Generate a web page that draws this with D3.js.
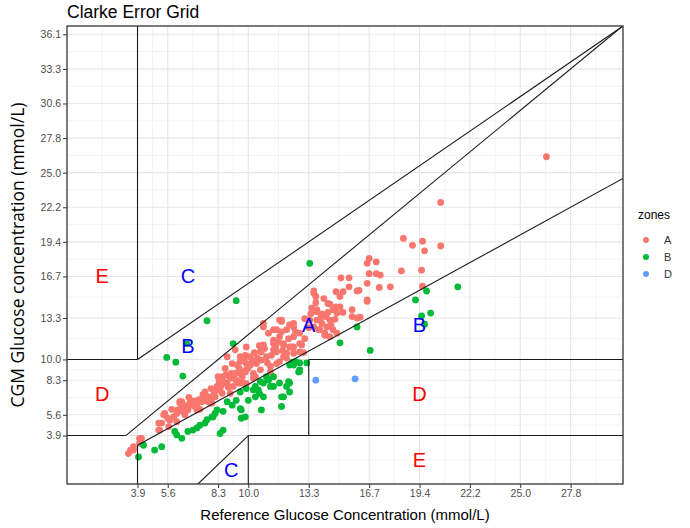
<!DOCTYPE html>
<html><head><meta charset="utf-8">
<script src="https://cdn.jsdelivr.net/npm/d3@7"></script>
<style>body{margin:0;background:#fff}svg{display:block}</style>
</head><body>
<svg id="chart" width="690" height="528"></svg>
<script>
// ---- data (glucose values in mg/dL, labelled in mmol/L) ----
const xTickValues = [70,100,150,180,240,300,350,400,450,500];
const xTickLabels = ["3.9","5.6","8.3","10.0","13.3","16.7","19.4","22.2","25.0","27.8"];
const yTickValues = [70,100,150,180,240,300,350,400,450,500,550,600,650];
const yTickLabels = ["3.9","5.6","8.3","10.0","13.3","16.7","19.4","22.2","25.0","27.8","30.6","33.3","36.1"];
const xMinorValues = [35,85,125,165,210,270,325,375,425,475,525];
const yMinorValues = [35,85,125,165,210,270,325,375,425,475,525,575,625];

const zoneNames = ["A","B","D"];
const zoneColors = ["#F8766D","#00BA38","#619CFF"];

// zone A points: [reference, CGM]
const pointsA = [[476,473],[371,407],[334,355],[343,345],[353,351],[355,337],[371,344],[300,326],[307,321],[298,319],[300,304],[307,304],[311,302],[332,308],[352,309],[272,298],[280,298],[280,285],[290,280],[310,284],[321,285],[298,264],[245,279],[247,271],[267,278],[274,278],[261,260],[267,256],[274,248],[283,252],[283,242],[291,241],[353,286],[243,254],[248,249],[253,246],[257,242],[261,237],[248,237],[253,232],[258,227],[250,223],[256,218],[261,213],[245,227],[241,237],[264,223],[211,237],[225,232],[218,223],[225,213],[215,201],[225,198],[233,201],[218,189],[231,191],[235,190],[259,261],[254,244],[268,218],[256,215],[213,235],[221,230],[205,223],[213,220],[200,218],[215,203],[223,198],[205,203],[192,191],[208,191],[193,179],[211,177],[218,182],[182,172],[192,165],[202,162],[175,162],[185,153],[172,146],[178,145],[195,227],[288,279],[271,256],[268,247],[288,240],[298,290],[298,266],[63,49],[66,54],[72,66],[92,78],[91,88],[96,100],[102,92],[109,102],[112,117],[119,107],[122,117],[129,114],[132,108],[135,126],[142,117],[147,126],[149,141],[152,136],[157,146],[155,155],[162,153],[165,141],[168,150],[172,160],[175,146],[178,165],[159,184],[164,174],[167,194],[172,184],[178,174],[182,184],[188,174],[185,160],[198,184],[205,194],[202,170],[208,174],[215,184],[195,201],[205,208],[211,213],[208,223],[195,232],[213,237],[225,227],[231,203],[221,198],[231,218],[225,189],[245,276],[248,252],[264,252],[251,223],[271,271],[135,129],[144,126],[112,119],[114,112],[124,114],[129,107],[97,102],[106,97],[117,102],[94,88],[101,83],[91,78],[109,90],[74,66],[72,59],[66,49],[61,44],[178,198],[177,186],[193,191],[172,177],[183,174],[157,167],[167,160],[177,162],[187,155],[150,155],[159,146],[170,146],[147,136],[154,131],[162,131],[140,126],[134,119],[144,117],[127,112],[120,107],[114,119],[110,107],[117,100],
  [100,95],[104,108],[113,106],[118,113],[121,125],[126,120],[131,122],[137,133],[139,120],[143,138],[146,131],[151,148],[153,142],[158,158],[160,140],[163,160],[166,153],[169,172],[171,167],[174,155],[176,180],[180,168],[184,178],[186,190],[189,182],[191,200],[196,196],[199,175],[203,186],[207,198],[210,205],[214,193],[220,210],[227,220],[236,210],[240,226],[242,246],[236,239],[252,240],[259,248],[262,230],[266,238],[247,262],[255,268]];
// zone B points
const pointsB = [[357,279],[388,285],[346,266],[361,247],[352,243],[355,231],[241,319],[271,204],[288,227],[301,193],[224,176],[231,175],[238,175],[221,172],[231,163],[221,146],[218,141],[215,126],[213,112],[168,265],[139,236],[165,203],[119,203],[99,183],[108,176],[115,156],[227,177],[231,165],[195,146],[198,155],[191,131],[193,107],[178,138],[172,133],[168,121],[173,107],[173,95],[159,119],[155,105],[149,107],[145,97],[139,93],[155,78],[152,73],[132,85],[125,78],[120,76],[109,71],[107,76],[94,54],[87,49],[76,56],[71,39],[187,141],[202,141],[114,66],[129,81],[137,88],[144,97],[200,150],[190,136],[187,126],[195,126],[180,121],[164,114],[172,109],[147,102],[177,97],[225,172],[230,162],[205,155],[192,148],[211,146],[220,148],[185,136],[205,141],[221,133],[213,126]];
// zone D points
const pointsD = [[247,150],[286,152]];

// Clarke grid boundary segments [x1,y1,x2,y2]
const zoneSegments = [
  [0,70,58.33,70],[58.33,70,551.67,662],
  [70,180,552,662],
  [70,56,552,441.6],
  [70,0,70,56],[70,180,70,662],[0,180,70,180],
  [130,0,180,70],
  [180,0,180,70],[180,70,552,70],
  [240,70,240,180],[240,180,552,180]
];
const zoneLabelText = ["A","B","B","C","C","D","D","E","E"];
const zoneLabelX = [240,120,350,120,163,35,350,35,350];
const zoneLabelY = [230,200,230,300,20,130,130,300,35];
const zoneLabelColor = ["blue","blue","blue","blue","blue","red","red","red","red"];

// ---- drawing ----
const svg = d3.select("#chart");
const font = "'Liberation Sans', Arial, sans-serif";
const x = d3.scaleLinear().domain([0,552]).range([67,623]);
const y = d3.scaleLinear().domain([0,662]).range([484,26]);
const [px0,px1] = x.range(); const [py0,py1] = y.range();

svg.append("rect").attr("width",690).attr("height",528).attr("fill","#fff");
svg.append("defs").append("clipPath").attr("id","clip").append("rect")
  .attr("x",px0).attr("y",py1).attr("width",px1-px0).attr("height",py0-py1);

const grid = svg.append("g");
grid.selectAll(".vmin").data(xMinorValues).join("line")
  .attr("x1",d=>x(d)).attr("x2",d=>x(d)).attr("y1",py1).attr("y2",py0)
  .attr("stroke","#ececec").attr("stroke-width",0.7);
grid.selectAll(".hmin").data(yMinorValues).join("line")
  .attr("y1",d=>y(d)).attr("y2",d=>y(d)).attr("x1",px0).attr("x2",px1)
  .attr("stroke","#ececec").attr("stroke-width",0.7);
grid.selectAll(".vmaj").data(xTickValues).join("line")
  .attr("x1",d=>x(d)).attr("x2",d=>x(d)).attr("y1",py1).attr("y2",py0)
  .attr("stroke","#e6e6e6").attr("stroke-width",1.1);
grid.selectAll(".hmaj").data(yTickValues).join("line")
  .attr("y1",d=>y(d)).attr("y2",d=>y(d)).attr("x1",px0).attr("x2",px1)
  .attr("stroke","#e6e6e6").attr("stroke-width",1.1);

// points
const pts = svg.append("g").attr("clip-path","url(#clip)");
[pointsA,pointsB,pointsD].forEach((arr,i)=>{
  pts.selectAll(null).data(arr).join("circle")
    .attr("cx",d=>x(d[0])).attr("cy",d=>y(d[1])).attr("r",3.4)
    .attr("fill",zoneColors[i]);
});

// zone lines
svg.append("g").attr("clip-path","url(#clip)").selectAll("line").data(zoneSegments).join("line")
  .attr("x1",d=>x(d[0])).attr("y1",d=>y(d[1])).attr("x2",d=>x(d[2])).attr("y2",d=>y(d[3]))
  .attr("stroke","#1a1a1a").attr("stroke-width",1.1);

// zone labels
svg.append("g").selectAll("text").data(zoneLabelText).join("text")
  .attr("x",(d,i)=>x(zoneLabelX[i])).attr("y",(d,i)=>y(zoneLabelY[i]))
  .attr("text-anchor","middle").attr("dominant-baseline","central")
  .attr("font-family",font).attr("font-size",20).attr("fill",(d,i)=>zoneLabelColor[i])
  .text(d=>d);

// panel border
svg.append("rect").attr("x",px0).attr("y",py1).attr("width",px1-px0).attr("height",py0-py1)
  .attr("fill","none").attr("stroke","#333").attr("stroke-width",1.3);

// axes
const xAxis = svg.append("g").attr("transform",`translate(0,${py0})`)
  .call(d3.axisBottom(x).tickValues(xTickValues).tickFormat((d,i)=>xTickLabels[i]).tickSize(4).tickPadding(2));
const yAxis = svg.append("g").attr("transform",`translate(${px0},0)`)
  .call(d3.axisLeft(y).tickValues(yTickValues).tickFormat((d,i)=>yTickLabels[i]).tickSize(4).tickPadding(2));
[xAxis,yAxis].forEach(g=>{
  g.select(".domain").remove();
  g.selectAll(".tick line").attr("stroke","#333");
  g.selectAll(".tick text").attr("font-family",font).attr("font-size",10.5).attr("fill","#4d4d4d");
});

// titles
svg.append("text").attr("x",67).attr("y",18).attr("font-family",font).attr("font-size",17.5)
  .attr("fill","#000").text("Clarke Error Grid");
svg.append("text").attr("x",(px0+px1)/2).attr("y",520).attr("text-anchor","middle")
  .attr("font-family",font).attr("font-size",15).attr("fill","#000")
  .text("Reference Glucose Concentration (mmol/L)");
svg.append("text").attr("transform",`translate(24,${(py0+py1)/2}) rotate(-90)`)
  .attr("text-anchor","middle").attr("font-family","'Open Sans', sans-serif").attr("font-size",17.5).attr("fill","#000")
  .text("CGM Glucose concentration (mmol/L)");

// legend
const lg = svg.append("g");
lg.append("text").attr("x",638).attr("y",219).attr("font-family",font).attr("font-size",12).attr("fill","#000").text("zones");
zoneNames.forEach((z,i)=>{
  lg.append("circle").attr("cx",646).attr("cy",240+i*17).attr("r",3).attr("fill",zoneColors[i]);
  lg.append("text").attr("x",664).attr("y",240+i*17).attr("dominant-baseline","central")
    .attr("font-family",font).attr("font-size",11).attr("fill","#333").text(z);
});
</script>
</body></html>
